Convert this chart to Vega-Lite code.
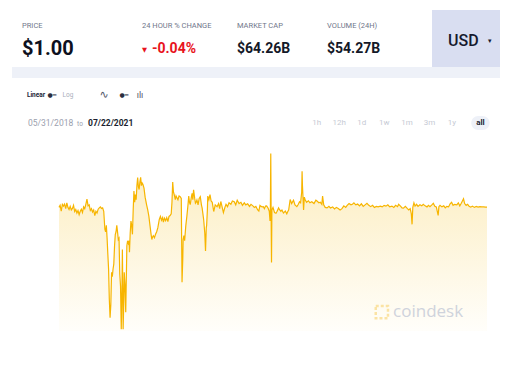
{
  "$schema": "https://vega.github.io/schema/vega-lite/v6.json",
  "background": "white",
  "padding": {"left": 12, "top": 10, "right": 0, "bottom": 0},
  "spacing": 0,
  "align": "none",
  "config": {"view": {"stroke": null}, "font": "Roboto", "concat": {"spacing": 0}},
  "datasets": {
    "header": [
      {"kind": "label", "col": "price", "row": "label", "text": "PRICE"},
      {"kind": "label", "col": "tri", "row": "label", "text": "24 HOUR % CHANGE"},
      {"kind": "label", "col": "cap", "row": "label", "text": "MARKET CAP"},
      {"kind": "label", "col": "vol", "row": "label", "text": "VOLUME (24H)"},
      {"kind": "price", "col": "price", "row": "value", "text": "$1.00"},
      {"kind": "tri", "col": "tri", "row": "value", "text": "▼"},
      {"kind": "change", "col": "chg", "row": "value", "text": "-0.04%"},
      {"kind": "value", "col": "cap", "row": "value", "text": "$64.26B"},
      {"kind": "value", "col": "vol", "row": "value", "text": "$54.27B"}
    ],
    "currency": [
      {"item": "usd", "row": "r", "text": "USD"},
      {"item": "caret", "row": "r", "text": "▾"}
    ],
    "strip": [{"a": 1}],
    "controls": [
      {"kind": "bold", "col": "linear", "row": "r1", "text": "Linear"},
      {"kind": "toggle", "col": "tog1", "row": "r1", "text": "●━"},
      {"kind": "muted", "col": "log", "row": "r1", "text": "Log"},
      {"kind": "wave", "col": "wave", "row": "r1", "text": "∿"},
      {"kind": "toggle", "col": "tog2", "row": "r1", "text": "●━"},
      {"kind": "bars", "col": "bars", "row": "r1", "text": "ılı"},
      {"kind": "from", "col": "date1", "row": "r2", "text": "05/31/2018"},
      {"kind": "to", "col": "to", "row": "r2", "text": "to"},
      {"kind": "until", "col": "date2", "row": "r2", "text": "07/22/2021"}
    ],
    "ranges": [
      {"btn": "1h", "row": "r2"}, {"btn": "12h", "row": "r2"}, {"btn": "1d", "row": "r2"},
      {"btn": "1w", "row": "r2"}, {"btn": "1m", "row": "r2"}, {"btn": "3m", "row": "r2"},
      {"btn": "1y", "row": "r2"}
    ],
    "active": [{"btn": "all", "row": "r2"}],
    "watermark": [{"label": "coindesk"}],
    "price": [
      {"date": "2018-05-31", "price": 1.0000}, {"date": "2018-06-03", "price": 1.0008}, {"date": "2018-06-06", "price": 0.9985},
      {"date": "2018-06-09", "price": 1.0012}, {"date": "2018-06-12", "price": 1.0005}, {"date": "2018-06-15", "price": 1.0013},
      {"date": "2018-06-18", "price": 0.9995}, {"date": "2018-06-21", "price": 1.0018}, {"date": "2018-06-24", "price": 1.0000},
      {"date": "2018-06-27", "price": 0.9992}, {"date": "2018-06-30", "price": 1.0004}, {"date": "2018-07-03", "price": 0.9990},
      {"date": "2018-07-06", "price": 0.9996}, {"date": "2018-07-09", "price": 1.0008}, {"date": "2018-07-12", "price": 0.9984},
      {"date": "2018-07-15", "price": 0.9992}, {"date": "2018-07-18", "price": 0.9978}, {"date": "2018-07-21", "price": 0.9988},
      {"date": "2018-07-24", "price": 0.9972}, {"date": "2018-07-27", "price": 0.9985}, {"date": "2018-07-30", "price": 0.9993},
      {"date": "2018-08-02", "price": 0.9980}, {"date": "2018-08-05", "price": 1.0002}, {"date": "2018-08-08", "price": 0.9995},
      {"date": "2018-08-11", "price": 1.0012}, {"date": "2018-08-14", "price": 1.0032}, {"date": "2018-08-17", "price": 1.0006},
      {"date": "2018-08-20", "price": 1.0010}, {"date": "2018-08-23", "price": 0.9988}, {"date": "2018-08-26", "price": 0.9995},
      {"date": "2018-08-29", "price": 0.9982}, {"date": "2018-09-01", "price": 0.9990}, {"date": "2018-09-04", "price": 0.9968},
      {"date": "2018-09-07", "price": 0.9985}, {"date": "2018-09-10", "price": 0.9978}, {"date": "2018-09-13", "price": 0.9993},
      {"date": "2018-09-16", "price": 0.9998}, {"date": "2018-09-19", "price": 1.0002}, {"date": "2018-09-22", "price": 0.9996},
      {"date": "2018-09-25", "price": 0.9998}, {"date": "2018-09-28", "price": 0.9985}, {"date": "2018-10-01", "price": 0.9915},
      {"date": "2018-10-03", "price": 0.9905}, {"date": "2018-10-05", "price": 0.9930}, {"date": "2018-10-07", "price": 0.9880},
      {"date": "2018-10-09", "price": 0.9817}, {"date": "2018-10-11", "price": 0.9760}, {"date": "2018-10-13", "price": 0.9640},
      {"date": "2018-10-15", "price": 0.9570}, {"date": "2018-10-17", "price": 0.9620}, {"date": "2018-10-19", "price": 0.9747},
      {"date": "2018-10-21", "price": 0.9730}, {"date": "2018-10-23", "price": 0.9760}, {"date": "2018-10-25", "price": 0.9780},
      {"date": "2018-10-27", "price": 0.9850}, {"date": "2018-10-29", "price": 0.9895}, {"date": "2018-10-31", "price": 0.9905},
      {"date": "2018-11-02", "price": 0.9930}, {"date": "2018-11-04", "price": 0.9905}, {"date": "2018-11-06", "price": 0.9875},
      {"date": "2018-11-08", "price": 0.9880}, {"date": "2018-11-10", "price": 0.9740}, {"date": "2018-11-12", "price": 0.9694},
      {"date": "2018-11-14", "price": 0.9525}, {"date": "2018-11-16", "price": 0.9700}, {"date": "2018-11-17", "price": 0.9836},
      {"date": "2018-11-18", "price": 0.9700}, {"date": "2018-11-19", "price": 0.9525}, {"date": "2018-11-21", "price": 0.9650},
      {"date": "2018-11-22", "price": 0.9747}, {"date": "2018-11-24", "price": 0.9700}, {"date": "2018-11-26", "price": 0.9591},
      {"date": "2018-11-28", "price": 0.9760}, {"date": "2018-11-29", "price": 0.9850}, {"date": "2018-12-01", "price": 0.9870},
      {"date": "2018-12-03", "price": 0.9860}, {"date": "2018-12-05", "price": 0.9870}, {"date": "2018-12-06", "price": 0.9825},
      {"date": "2018-12-08", "price": 0.9900}, {"date": "2018-12-10", "price": 0.9947}, {"date": "2018-12-12", "price": 0.9930},
      {"date": "2018-12-14", "price": 0.9895}, {"date": "2018-12-16", "price": 0.9990}, {"date": "2018-12-18", "price": 1.0064},
      {"date": "2018-12-20", "price": 1.0020}, {"date": "2018-12-22", "price": 1.0050}, {"date": "2018-12-24", "price": 1.0030},
      {"date": "2018-12-26", "price": 1.0085}, {"date": "2018-12-28", "price": 1.0116}, {"date": "2018-12-30", "price": 1.0080},
      {"date": "2019-01-01", "price": 1.0070}, {"date": "2019-01-03", "price": 1.0100}, {"date": "2019-01-05", "price": 1.0117},
      {"date": "2019-01-07", "price": 1.0085}, {"date": "2019-01-09", "price": 1.0095}, {"date": "2019-01-11", "price": 1.0090},
      {"date": "2019-01-14", "price": 1.0075}, {"date": "2019-01-17", "price": 1.0040}, {"date": "2019-01-21", "price": 1.0010},
      {"date": "2019-01-24", "price": 0.9990}, {"date": "2019-01-27", "price": 0.9966}, {"date": "2019-01-30", "price": 0.9930},
      {"date": "2019-02-02", "price": 0.9895}, {"date": "2019-02-04", "price": 0.9875}, {"date": "2019-02-06", "price": 0.9885},
      {"date": "2019-02-08", "price": 0.9890}, {"date": "2019-02-11", "price": 0.9882}, {"date": "2019-02-14", "price": 0.9895},
      {"date": "2019-02-17", "price": 0.9905}, {"date": "2019-02-20", "price": 0.9920}, {"date": "2019-02-24", "price": 0.9953},
      {"date": "2019-02-27", "price": 0.9965}, {"date": "2019-03-02", "price": 0.9950}, {"date": "2019-03-05", "price": 0.9960},
      {"date": "2019-03-07", "price": 0.9943}, {"date": "2019-03-10", "price": 0.9958}, {"date": "2019-03-13", "price": 0.9948},
      {"date": "2019-03-16", "price": 0.9960}, {"date": "2019-03-19", "price": 0.9945}, {"date": "2019-03-22", "price": 0.9965},
      {"date": "2019-03-25", "price": 0.9968}, {"date": "2019-03-28", "price": 0.9975}, {"date": "2019-03-30", "price": 1.0020},
      {"date": "2019-04-01", "price": 1.0099}, {"date": "2019-04-03", "price": 1.0060}, {"date": "2019-04-05", "price": 1.0050},
      {"date": "2019-04-08", "price": 1.0030}, {"date": "2019-04-10", "price": 1.0045}, {"date": "2019-04-12", "price": 1.0039},
      {"date": "2019-04-15", "price": 1.0030}, {"date": "2019-04-18", "price": 1.0045}, {"date": "2019-04-21", "price": 1.0042},
      {"date": "2019-04-24", "price": 1.0035}, {"date": "2019-04-26", "price": 0.9708}, {"date": "2019-04-28", "price": 0.9800},
      {"date": "2019-04-29", "price": 0.9875}, {"date": "2019-05-01", "price": 0.9890}, {"date": "2019-05-03", "price": 0.9870},
      {"date": "2019-05-06", "price": 0.9927}, {"date": "2019-05-09", "price": 0.9966}, {"date": "2019-05-12", "price": 1.0010},
      {"date": "2019-05-14", "price": 1.0044}, {"date": "2019-05-16", "price": 1.0020}, {"date": "2019-05-18", "price": 1.0011},
      {"date": "2019-05-21", "price": 1.0040}, {"date": "2019-05-23", "price": 1.0055}, {"date": "2019-05-25", "price": 1.0030},
      {"date": "2019-05-27", "price": 1.0069}, {"date": "2019-05-30", "price": 1.0035}, {"date": "2019-06-01", "price": 1.0016},
      {"date": "2019-06-03", "price": 1.0020}, {"date": "2019-06-05", "price": 1.0029}, {"date": "2019-06-08", "price": 1.0010},
      {"date": "2019-06-11", "price": 1.0035}, {"date": "2019-06-14", "price": 1.0042}, {"date": "2019-06-17", "price": 1.0010},
      {"date": "2019-06-19", "price": 0.9997}, {"date": "2019-06-21", "price": 0.9975}, {"date": "2019-06-23", "price": 0.9953},
      {"date": "2019-06-26", "price": 0.9900}, {"date": "2019-06-28", "price": 0.9830}, {"date": "2019-06-30", "price": 0.9920},
      {"date": "2019-07-01", "price": 0.9930}, {"date": "2019-07-03", "price": 0.9990}, {"date": "2019-07-04", "price": 1.0044},
      {"date": "2019-07-07", "price": 1.0030}, {"date": "2019-07-10", "price": 1.0050}, {"date": "2019-07-13", "price": 1.0025},
      {"date": "2019-07-16", "price": 1.0020}, {"date": "2019-07-20", "price": 0.9984}, {"date": "2019-07-24", "price": 1.0010},
      {"date": "2019-07-29", "price": 1.0003}, {"date": "2019-08-02", "price": 1.0015}, {"date": "2019-08-05", "price": 0.9995},
      {"date": "2019-08-08", "price": 1.0023}, {"date": "2019-08-11", "price": 1.0005}, {"date": "2019-08-15", "price": 0.9980},
      {"date": "2019-08-19", "price": 1.0000}, {"date": "2019-08-22", "price": 1.0012}, {"date": "2019-08-26", "price": 1.0003},
      {"date": "2019-08-30", "price": 1.0018}, {"date": "2019-09-04", "price": 1.0012}, {"date": "2019-09-08", "price": 1.0025},
      {"date": "2019-09-13", "price": 1.0022}, {"date": "2019-09-17", "price": 1.0010}, {"date": "2019-09-21", "price": 1.0028},
      {"date": "2019-09-26", "price": 1.0015}, {"date": "2019-10-01", "price": 1.0020}, {"date": "2019-10-05", "price": 1.0008},
      {"date": "2019-10-10", "price": 1.0018}, {"date": "2019-10-14", "price": 1.0010}, {"date": "2019-10-19", "price": 1.0014},
      {"date": "2019-10-24", "price": 1.0004}, {"date": "2019-10-28", "price": 1.0012}, {"date": "2019-11-02", "price": 1.0006},
      {"date": "2019-11-06", "price": 1.0000}, {"date": "2019-11-10", "price": 1.0004}, {"date": "2019-11-15", "price": 0.9990},
      {"date": "2019-11-18", "price": 0.9986}, {"date": "2019-11-21", "price": 1.0008}, {"date": "2019-11-24", "price": 1.0004},
      {"date": "2019-11-27", "price": 1.0002}, {"date": "2019-11-30", "price": 1.0003}, {"date": "2019-12-03", "price": 0.9995},
      {"date": "2019-12-06", "price": 1.0005}, {"date": "2019-12-09", "price": 1.0006}, {"date": "2019-12-13", "price": 0.9997},
      {"date": "2019-12-16", "price": 0.9985}, {"date": "2019-12-18", "price": 0.9947}, {"date": "2019-12-19", "price": 1.0000},
      {"date": "2019-12-20", "price": 1.0210}, {"date": "2019-12-21", "price": 0.9970}, {"date": "2019-12-22", "price": 0.9785},
      {"date": "2019-12-23", "price": 0.9990}, {"date": "2019-12-26", "price": 1.0000}, {"date": "2019-12-30", "price": 0.9980},
      {"date": "2020-01-03", "price": 0.9977}, {"date": "2020-01-06", "price": 0.9985}, {"date": "2020-01-10", "price": 0.9998},
      {"date": "2020-01-13", "price": 0.9990}, {"date": "2020-01-16", "price": 0.9985}, {"date": "2020-01-19", "price": 0.9990},
      {"date": "2020-01-23", "price": 0.9978}, {"date": "2020-01-28", "price": 0.9986}, {"date": "2020-02-01", "price": 0.9975},
      {"date": "2020-02-04", "price": 0.9985}, {"date": "2020-02-06", "price": 0.9990}, {"date": "2020-02-09", "price": 1.0020},
      {"date": "2020-02-10", "price": 1.0031}, {"date": "2020-02-14", "price": 1.0015}, {"date": "2020-02-19", "price": 1.0028},
      {"date": "2020-02-23", "price": 1.0010}, {"date": "2020-02-28", "price": 1.0003}, {"date": "2020-03-03", "price": 1.0012},
      {"date": "2020-03-06", "price": 1.0022}, {"date": "2020-03-09", "price": 1.0018}, {"date": "2020-03-12", "price": 1.0060},
      {"date": "2020-03-13", "price": 1.0141}, {"date": "2020-03-14", "price": 1.0085}, {"date": "2020-03-15", "price": 1.0055},
      {"date": "2020-03-17", "price": 0.9990}, {"date": "2020-03-19", "price": 1.0040}, {"date": "2020-03-21", "price": 1.0031},
      {"date": "2020-03-25", "price": 1.0020}, {"date": "2020-03-30", "price": 1.0026}, {"date": "2020-04-03", "price": 1.0018},
      {"date": "2020-04-08", "price": 1.0022}, {"date": "2020-04-14", "price": 1.0015}, {"date": "2020-04-19", "price": 1.0028},
      {"date": "2020-04-22", "price": 1.0025}, {"date": "2020-04-27", "price": 1.0018}, {"date": "2020-05-01", "price": 1.0020},
      {"date": "2020-05-05", "price": 1.0012}, {"date": "2020-05-07", "price": 1.0044}, {"date": "2020-05-10", "price": 1.0010},
      {"date": "2020-05-14", "price": 1.0000}, {"date": "2020-05-19", "price": 0.9998}, {"date": "2020-05-24", "price": 1.0004},
      {"date": "2020-05-28", "price": 0.9998}, {"date": "2020-06-03", "price": 1.0002}, {"date": "2020-06-08", "price": 0.9994},
      {"date": "2020-06-13", "price": 1.0000}, {"date": "2020-06-18", "price": 0.9996}, {"date": "2020-06-23", "price": 0.9990},
      {"date": "2020-06-28", "price": 0.9995}, {"date": "2020-07-03", "price": 1.0006}, {"date": "2020-07-08", "price": 1.0000},
      {"date": "2020-07-12", "price": 1.0008}, {"date": "2020-07-17", "price": 1.0015}, {"date": "2020-07-22", "price": 1.0010},
      {"date": "2020-07-26", "price": 1.0012}, {"date": "2020-07-30", "price": 1.0018}, {"date": "2020-08-04", "price": 1.0010},
      {"date": "2020-08-09", "price": 1.0013}, {"date": "2020-08-14", "price": 1.0006}, {"date": "2020-08-19", "price": 1.0014},
      {"date": "2020-08-24", "price": 1.0004}, {"date": "2020-08-29", "price": 1.0010}, {"date": "2020-09-03", "price": 1.0016},
      {"date": "2020-09-08", "price": 1.0008}, {"date": "2020-09-13", "price": 1.0003}, {"date": "2020-09-18", "price": 1.0008},
      {"date": "2020-09-23", "price": 1.0000}, {"date": "2020-09-28", "price": 1.0004}, {"date": "2020-10-03", "price": 1.0002},
      {"date": "2020-10-09", "price": 1.0005}, {"date": "2020-10-14", "price": 1.0002}, {"date": "2020-10-19", "price": 1.0008},
      {"date": "2020-10-24", "price": 1.0005}, {"date": "2020-10-29", "price": 1.0010}, {"date": "2020-11-03", "price": 1.0002},
      {"date": "2020-11-09", "price": 1.0005}, {"date": "2020-11-14", "price": 1.0000}, {"date": "2020-11-19", "price": 1.0008},
      {"date": "2020-11-24", "price": 1.0003}, {"date": "2020-11-27", "price": 1.0012}, {"date": "2020-12-02", "price": 1.0005},
      {"date": "2020-12-06", "price": 0.9998}, {"date": "2020-12-10", "price": 0.9997}, {"date": "2020-12-15", "price": 1.0004},
      {"date": "2020-12-20", "price": 0.9996}, {"date": "2020-12-24", "price": 0.9990}, {"date": "2020-12-28", "price": 0.9995},
      {"date": "2020-12-31", "price": 0.9975}, {"date": "2021-01-02", "price": 0.9934}, {"date": "2021-01-04", "price": 1.0000},
      {"date": "2021-01-07", "price": 1.0018}, {"date": "2021-01-10", "price": 1.0005}, {"date": "2021-01-14", "price": 1.0012},
      {"date": "2021-01-18", "price": 1.0004}, {"date": "2021-01-23", "price": 1.0010}, {"date": "2021-01-28", "price": 1.0006},
      {"date": "2021-02-01", "price": 1.0012}, {"date": "2021-02-06", "price": 1.0006}, {"date": "2021-02-11", "price": 1.0002},
      {"date": "2021-02-15", "price": 1.0008}, {"date": "2021-02-19", "price": 1.0003}, {"date": "2021-02-24", "price": 1.0010},
      {"date": "2021-02-28", "price": 1.0016}, {"date": "2021-03-04", "price": 1.0004}, {"date": "2021-03-08", "price": 1.0002},
      {"date": "2021-03-13", "price": 0.9969}, {"date": "2021-03-15", "price": 1.0003}, {"date": "2021-03-18", "price": 1.0008},
      {"date": "2021-03-23", "price": 1.0002}, {"date": "2021-03-28", "price": 1.0006}, {"date": "2021-04-01", "price": 0.9998},
      {"date": "2021-04-05", "price": 1.0004}, {"date": "2021-04-10", "price": 1.0002}, {"date": "2021-04-14", "price": 1.0014},
      {"date": "2021-04-18", "price": 1.0020}, {"date": "2021-04-22", "price": 1.0008}, {"date": "2021-04-26", "price": 1.0012},
      {"date": "2021-05-02", "price": 1.0010}, {"date": "2021-05-06", "price": 1.0018}, {"date": "2021-05-10", "price": 1.0006},
      {"date": "2021-05-14", "price": 1.0016}, {"date": "2021-05-20", "price": 1.0034}, {"date": "2021-05-23", "price": 1.0015},
      {"date": "2021-05-27", "price": 1.0008}, {"date": "2021-05-31", "price": 1.0012}, {"date": "2021-06-04", "price": 1.0004},
      {"date": "2021-06-08", "price": 1.0001}, {"date": "2021-06-13", "price": 1.0005}, {"date": "2021-06-18", "price": 1.0000},
      {"date": "2021-06-23", "price": 1.0004}, {"date": "2021-06-28", "price": 1.0001}, {"date": "2021-07-03", "price": 1.0003},
      {"date": "2021-07-08", "price": 1.0002}, {"date": "2021-07-13", "price": 1.0002}, {"date": "2021-07-18", "price": 1.0001},
      {"date": "2021-07-22", "price": 1.0001}
    ]
  },
  "vconcat": [
    {
      "spacing": 0,
      "align": "none",
      "hconcat": [
        {
          "width": 420,
          "height": 57,
          "data": {"name": "header"},
          "encoding": {
            "x": {"field": "col", "type": "nominal", "axis": null, "scale": {"type": "point", "padding": 0, "domain": ["h0","h1","price","h3","h4","h5","h6","h7","h8","h9","h10","h11","h12","h13","h14","h15","h16","h17","h18","h19","h20","h21","h22","h23","h24","h25","tri","h27","chg","h29","h30","h31","h32","h33","h34","h35","h36","h37","h38","h39","h40","h41","h42","h43","h44","cap","h46","h47","h48","h49","h50","h51","h52","h53","h54","h55","h56","h57","h58","h59","h60","h61","h62","vol","h64","h65","h66","h67","h68","h69","h70","h71","h72","h73","h74","h75","h76","h77","h78","h79","h80","h81","h82","h83","h84"]}},
            "y": {"field": "row", "type": "nominal", "axis": null, "scale": {"type": "point", "domain": ["label", "value"], "padding": 0.7838, "align": 0.4684}},
            "text": {"field": "text"}
          },
          "layer": [
            {"transform": [{"filter": "datum.kind == 'label'"}], "mark": {"type": "text", "align": "left", "baseline": "middle", "fontSize": 7.5, "color": "#70768a"}},
            {"transform": [{"filter": "datum.kind == 'price'"}], "mark": {"type": "text", "align": "left", "baseline": "middle", "fontSize": 20, "fontWeight": "bold", "color": "#0d1020"}},
            {"transform": [{"filter": "datum.kind == 'value'"}], "mark": {"type": "text", "align": "left", "baseline": "middle", "fontSize": 14, "fontWeight": "bold", "color": "#141827"}},
            {"transform": [{"filter": "datum.kind == 'change'"}], "mark": {"type": "text", "align": "left", "baseline": "middle", "fontSize": 14, "fontWeight": "bold", "color": "#e8141c"}},
            {"transform": [{"filter": "datum.kind == 'tri'"}], "mark": {"type": "text", "align": "left", "baseline": "middle", "fontSize": 6.5, "font": "DejaVu Sans", "color": "#e8141c", "dy": 1}}
          ]
        },
        {
          "width": 68,
          "height": 57,
          "view": {"fill": "#d9def1", "stroke": null},
          "data": {"name": "currency"},
          "encoding": {
            "x": {"field": "item", "type": "nominal", "axis": null, "scale": {"type": "point", "domain": ["usd", "caret"], "padding": 0.783, "align": 0.754}},
            "y": {"field": "row", "type": "nominal", "axis": null, "scale": {"type": "point", "domain": ["r"], "padding": 0.5, "align": 0.544}},
            "text": {"field": "text"}
          },
          "layer": [
            {"transform": [{"filter": "datum.item == 'usd'"}], "mark": {"type": "text", "baseline": "middle", "fontSize": 16, "fontWeight": 500, "color": "#161a2e"}},
            {"transform": [{"filter": "datum.item == 'caret'"}], "mark": {"type": "text", "baseline": "middle", "fontSize": 7, "font": "DejaVu Sans", "color": "#161a2e"}}
          ]
        }
      ]
    },
    {
      "width": 488,
      "height": 11,
      "view": {"fill": "#eef1f8", "stroke": null},
      "data": {"name": "strip"},
      "mark": {"type": "point", "opacity": 0}
    },
    {
      "spacing": 0,
      "align": "none",
      "hconcat": [
        {
          "width": 140,
          "height": 73,
          "data": {"name": "controls"},
          "encoding": {
            "x": {"field": "col", "type": "nominal", "axis": null, "scale": {"type": "point", "padding": 0, "domain": ["c0","c1","c2","c3","date1","c5","linear","c7","c8","c9","tog1","c11","c12","c13","log","c15","c16","to","c18","date2","c20","c21","c22","wave","c24","c25","c26","c27","tog2","c29","c30","c31","bars","c33","c34","c35"]}},
            "y": {"field": "row", "type": "nominal", "axis": null, "scale": {"type": "point", "domain": ["r1", "r2"], "padding": 0.8036, "align": 0.378}},
            "text": {"field": "text"}
          },
          "layer": [
            {"transform": [{"filter": "datum.kind == 'bold'"}], "mark": {"type": "text", "baseline": "middle", "fontSize": 6.5, "fontWeight": "bold", "color": "#22263a"}},
            {"transform": [{"filter": "datum.kind == 'muted'"}], "mark": {"type": "text", "baseline": "middle", "fontSize": 6.5, "color": "#a9aebb"}},
            {"transform": [{"filter": "datum.kind == 'toggle'"}], "mark": {"type": "text", "baseline": "middle", "fontSize": 6, "font": "DejaVu Sans", "color": "#2a2e40"}},
            {"transform": [{"filter": "datum.kind == 'wave'"}], "mark": {"type": "text", "baseline": "middle", "fontSize": 11, "font": "DejaVu Sans", "color": "#565b6d"}},
            {"transform": [{"filter": "datum.kind == 'bars'"}], "mark": {"type": "text", "baseline": "middle", "fontSize": 9, "color": "#565b6d"}},
            {"transform": [{"filter": "datum.kind == 'from'"}], "mark": {"type": "text", "align": "left", "baseline": "middle", "fontSize": 8.5, "color": "#9ba0ae"}},
            {"transform": [{"filter": "datum.kind == 'to'"}], "mark": {"type": "text", "baseline": "middle", "fontSize": 6.5, "color": "#9ba0ae", "dy": 1}},
            {"transform": [{"filter": "datum.kind == 'until'"}], "mark": {"type": "text", "align": "left", "baseline": "middle", "fontSize": 8.5, "fontWeight": "bold", "color": "#1b1f30"}}
          ]
        },
        {
          "width": 148,
          "height": 73,
          "data": {"name": "strip"},
          "mark": {"type": "point", "opacity": 0}
        },
        {
          "width": 180.4,
          "height": 73,
          "resolve": {"scale": {"x": "independent"}},
          "layer": [
            {
              "data": {"name": "ranges"},
              "encoding": {
                "x": {"field": "btn", "type": "nominal", "axis": null, "scale": {"type": "point", "domain": ["1h","12h","1d","1w","1m","3m","1y"], "padding": 1, "align": 0.37}},
                "y": {"field": "row", "type": "nominal", "axis": null, "scale": {"type": "point", "domain": ["r1", "r2"], "padding": 0.8036, "align": 0.378}},
                "text": {"field": "btn"}
              },
              "mark": {"type": "text", "baseline": "middle", "fontSize": 8, "color": "#c6cad4"}
            },
            {
              "data": {"name": "active"},
              "encoding": {
                "x": {"field": "btn", "type": "nominal", "axis": null, "scale": {"type": "point", "domain": ["all"], "padding": 0.5, "align": 1}},
                "y": {"field": "row", "type": "nominal", "axis": null, "scale": {"type": "point", "domain": ["r1", "r2"], "padding": 0.8036, "align": 0.378}}
              },
              "layer": [
                {"mark": {"type": "point", "filled": true, "opacity": 1, "color": "#eef1f8", "size": 335, "shape": "M-0.235,-0.765H0.235A0.765,0.765 0 0 1 0.235,0.765H-0.235A0.765,0.765 0 0 1 -0.235,-0.765Z"}},
                {"mark": {"type": "text", "baseline": "middle", "fontSize": 8, "fontWeight": "bold", "color": "#1b1f30"}, "encoding": {"text": {"field": "btn"}}}
              ]
            }
          ]
        }
      ]
    },
    {
      "spacing": 0,
      "align": "none",
      "bounds": "flush",
      "hconcat": [
        {
          "width": 47,
          "height": 180,
          "data": {"name": "strip"},
          "mark": {"type": "point", "opacity": 0}
        },
        {
          "width": 428,
          "height": 180,
          "layer": [
            {
              "data": {"name": "price"},
              "encoding": {
                "x": {
                  "field": "date", "type": "temporal",
                  "scale": {"domain": [{"year": 2018, "month": 5, "date": 31}, {"year": 2021, "month": 7, "date": 22}]},
                  "axis": {"values": [{"year": 2019, "month": 1, "date": 1}, {"year": 2020, "month": 1, "date": 1}, {"year": 2021, "month": 1, "date": 1}], "format": "%Y", "title": null, "domain": false, "ticks": false, "tickSize": 0, "grid": false, "labelPadding": 3, "labelColor": "#7b8193", "labelFontSize": 8, "labelFont": "Roboto"}
                },
                "y": {
                  "field": "price", "type": "quantitative",
                  "scale": {"domain": [0.9518, 1.022], "zero": false, "nice": false},
                  "axis": {"values": [0.96, 0.97, 0.98, 0.99, 1, 1.01, 1.02], "labelExpr": "datum.value == 1 ? '$1' : '$' + format(datum.value, '.2f')", "labelOverlap": false, "title": null, "domain": false, "ticks": false, "tickSize": 0, "labelPadding": 6, "grid": true, "gridColor": "#eef0f5", "labelColor": "#7b8193", "labelFontSize": 8.5, "labelFont": "Roboto"}
                }
              },
              "layer": [
                {
                  "mark": {"type": "area", "color": {"gradient": "linear", "x1": 1, "y1": 1, "x2": 1, "y2": 0, "stops": [{"offset": 0, "color": "#fffefa"}, {"offset": 1, "color": "#fcecbc"}]}},
                  "encoding": {"y2": {"datum": 0.9518}}
                },
                {"mark": {"type": "line", "color": "#f7b500", "strokeWidth": 1.2}}
              ]
            },
            {
              "data": {"name": "watermark"},
              "mark": {"type": "point", "shape": "square", "filled": false, "stroke": "#fbe3a4", "strokeWidth": 2.5, "strokeDash": [3, 2], "size": 150, "opacity": 1},
              "encoding": {"x": {"datum": {"year": 2020, "month": 10, "date": 13}, "type": "temporal", "axis": null}, "y": {"datum": 0.9592, "type": "quantitative", "axis": null}}
            },
            {
              "data": {"name": "watermark"},
              "mark": {"type": "text", "align": "left", "baseline": "middle", "fontSize": 17, "font": "Open Sans", "color": "#cfd3dc"},
              "encoding": {"x": {"datum": {"year": 2020, "month": 11, "date": 12}, "type": "temporal", "axis": null}, "y": {"datum": 0.9592, "type": "quantitative", "axis": null}, "text": {"field": "label"}}
            }
          ]
        }
      ]
    }
  ]
}
